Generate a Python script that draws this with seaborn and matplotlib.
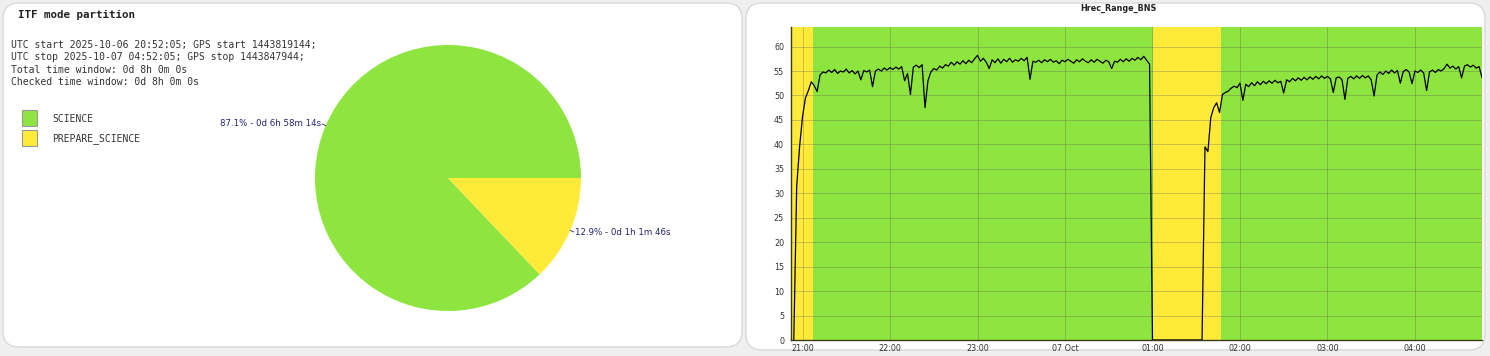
import numpy as np
import pandas as pd
import matplotlib
matplotlib.use("Agg")
import matplotlib.pyplot as plt
import matplotlib.dates as mdates
from matplotlib.patches import FancyBboxPatch, Rectangle
from matplotlib.transforms import IdentityTransform
from matplotlib.ticker import FuncFormatter
import seaborn as sns

# ---------------- data ----------------
modes = ["SCIENCE", "PREPARE_SCIENCE"]
mode_share = [87.1, 12.9]
mode_durations = ["0d 6h 58m 14s", "0d 1h 1m 46s"]
mode_colors = ["#8EE53F", "#FFEA3A"]

pie_title = "ITF mode partition"
info_lines = [
    "UTC start 2025-10-06 20:52:05; GPS start 1443819144;",
    "UTC stop 2025-10-07 04:52:05; GPS stop 1443847944;",
    "Total time window: 0d 8h 0m 0s",
    "Checked time window: 0d 8h 0m 0s",
]

line_title = "Hrec_Range_BNS"
view_start = "2025-10-06 20:52:05"
view_stop = "2025-10-07 04:46:00"
prepare_start = ["2025-10-06 20:52:05", "2025-10-07 01:00:20"]
prepare_stop = ["2025-10-06 21:07:30", "2025-10-07 01:46:41"]

sample_start = "2025-10-06 20:54:00"
sample_step = "2min"
range_bns = [
    0, 31.5, 39.6, 45.7, 49.5, 51.0, 52.8, 52.0, 50.8, 54.2,
    54.8, 54.6, 55.2, 54.7, 55.3, 54.5, 55.0, 54.8, 55.4, 54.6,
    55.1, 54.4, 55.0, 53.2, 55.1, 54.8, 55.2, 51.8, 55.0, 55.4,
    55.0, 55.6, 55.2, 55.7, 55.3, 55.8, 55.4, 55.9, 53.0, 54.5,
    50.2, 55.8, 56.2, 55.7, 56.3, 47.5, 53.0, 54.8, 55.5, 55.2,
    56.0, 55.6, 56.3, 56.0, 56.8, 56.2, 56.9, 56.4, 57.1, 56.5,
    57.2, 56.7, 57.5, 58.2, 57.0, 57.6, 56.8, 55.5, 57.3, 56.7,
    57.5, 56.6, 57.4, 56.9, 57.6, 56.8, 57.3, 57.0, 57.6, 57.1,
    57.8, 53.3, 57.0, 56.8, 57.2, 56.7, 57.3, 56.9, 57.4, 56.8,
    57.1, 56.5, 57.2, 56.9, 57.4, 57.0, 56.6, 57.3, 56.9, 57.5,
    57.0, 56.7, 57.3, 56.8, 57.4, 57.0, 56.6, 57.2, 56.9, 55.5,
    57.0, 56.8, 57.4, 56.9, 57.5, 57.0, 57.6, 57.2, 57.8, 57.3,
    58.0, 57.2, 56.4, 0, 0, 0, 0, 0, 0, 0,
    0, 0, 0, 0, 0, 0, 0, 0, 0, 0,
    0, 39.5, 38.5, 45.5, 47.5, 48.5, 46.5, 50.2, 50.6, 50.9,
    51.5, 51.9, 51.6, 52.5, 49.0, 52.3, 51.8, 52.6, 52.0, 52.8,
    52.2, 52.9, 52.4, 53.0, 52.5, 53.1, 52.6, 52.9, 50.5, 53.2,
    52.8, 53.5, 53.0, 53.6, 53.1, 53.7, 53.2, 53.8, 53.3, 53.9,
    53.4, 54.0, 53.5, 53.9, 53.4, 50.6, 53.6, 53.8, 53.2, 49.2,
    53.5, 53.9, 53.4, 54.0, 53.5, 54.1, 53.6, 54.0, 53.2, 49.9,
    54.2, 54.8, 54.3, 55.0, 54.5, 55.2, 54.6, 55.1, 52.5, 54.9,
    55.3, 54.8, 52.4, 55.0, 54.7, 55.2, 54.6, 51.0, 54.8, 55.2,
    54.7, 55.3, 55.0, 55.5, 56.4, 55.6, 56.0, 55.4, 55.9, 53.6,
    56.0, 56.3, 55.8, 56.2, 55.6, 55.9, 53.7,
]
y_ticks = list(range(0, 61, 5))

# ---------------- figure ----------------
sns.set_theme(style="white")
plt.rcParams["font.family"] = ["DejaVu Sans"]

W, H = 1490, 356
fig = plt.figure(figsize=(W / 100, H / 100), dpi=100)
fig.patch.set_facecolor("#efefef")


def fx(px):
    return px / W


def fy(py):
    return 1 - py / H


# rounded white panels (pixel coords, origin bottom-left)
for x0, y0, w, h in [(3, 9, 739, 344), (746, 6, 739, 347)]:
    fig.add_artist(FancyBboxPatch((x0, y0), w, h,
                                  boxstyle="round,pad=0,rounding_size=16",
                                  transform=IdentityTransform(),
                                  facecolor="white", edgecolor="#d9d9d9",
                                  linewidth=1.0, zorder=0))

# ---------- left panel: pie ----------
mono = "DejaVu Sans Mono"
fig.text(fx(18), fy(15), pie_title, family=mono, fontsize=7.8,
         fontweight="bold", color="#222222", va="center", ha="left")
for i, line in enumerate(info_lines):
    fig.text(fx(11), fy(45 + i * 12.4), line, family=mono, fontsize=7.0,
             color="#333333", va="center", ha="left")

for i, (m, c) in enumerate(zip(modes, mode_colors)):
    yc = 118 + i * 20
    fig.add_artist(Rectangle((22, H - yc - 8), 15, 16,
                             transform=IdentityTransform(),
                             facecolor=c, edgecolor="#999999", linewidth=0.8))
    fig.text(fx(52), fy(yc + 1), m, family=mono, fontsize=7.0,
             color="#333333", va="center", ha="left")

r = 133
axp = fig.add_axes([fx(448 - r), fy(178 + r), 2 * r / W, 2 * r / H])
labels = [f"{s:.1f}% - {d}" for s, d in zip(mode_share, mode_durations)]
wedges, texts = axp.pie(mode_share, colors=mode_colors, startangle=0,
                        counterclock=True, labels=labels, labeldistance=1.035,
                        wedgeprops=dict(linewidth=0),
                        textprops=dict(fontsize=6.2, color="#23236e"))
# tiny leader ticks between wedge edge and label
for w in wedges:
    ang = np.deg2rad((w.theta1 + w.theta2) / 2)
    c, s = np.cos(ang), np.sin(ang)
    axp.plot([1.0 * c, 1.03 * c], [1.0 * s, 1.03 * s], color="#23236e",
             lw=0.6, clip_on=False)
axp.set_xlim(-1, 1)
axp.set_ylim(-1, 1)
axp.set_aspect("equal")
axp.axis("off")

# ---------- right panel: time series ----------
times = pd.date_range(sample_start, periods=len(range_bns), freq=sample_step)
df = pd.DataFrame({"time": times, "range": range_bns})

ax = fig.add_axes([fx(791), fy(340), (1482 - 791) / W, (340 - 27) / H])
ax.set_facecolor(mode_colors[0])
for s, e in zip(prepare_start, prepare_stop):
    ax.axvspan(pd.Timestamp(s), pd.Timestamp(e), color=mode_colors[1],
               lw=0, zorder=0.2)

sns.lineplot(data=df, x="time", y="range", ax=ax, color="black",
             linewidth=0.9, zorder=3)

ax.set_xlim(pd.Timestamp(view_start), pd.Timestamp(view_stop))
ax.set_ylim(0, 64)
ax.set_yticks(y_ticks)
ax.xaxis.set_major_locator(mdates.HourLocator())


def fmt(x, pos):
    d = mdates.num2date(x)
    return d.strftime("%d %b") if d.hour == 0 else d.strftime("%H:%M")


ax.xaxis.set_major_formatter(FuncFormatter(fmt))
ax.set_axisbelow(True)
ax.grid(True, color="#555555", alpha=0.3, linewidth=0.7)
ax.tick_params(axis="both", length=0, labelsize=5.8, colors="#333333",
               pad=3)
ax.tick_params(axis="y", pad=5)
ax.set_xlabel("")
ax.set_ylabel("")
for side in ["top", "right"]:
    ax.spines[side].set_visible(False)
for side in ["left", "bottom"]:
    ax.spines[side].set_color("#3a3a1a")
    ax.spines[side].set_linewidth(1.0)

fig.text(fx(1118), fy(8), line_title, fontsize=5.8, fontweight="bold",
         color="#222222", ha="center", va="center")

fig.savefig("out.png", dpi=100, facecolor=fig.get_facecolor())
